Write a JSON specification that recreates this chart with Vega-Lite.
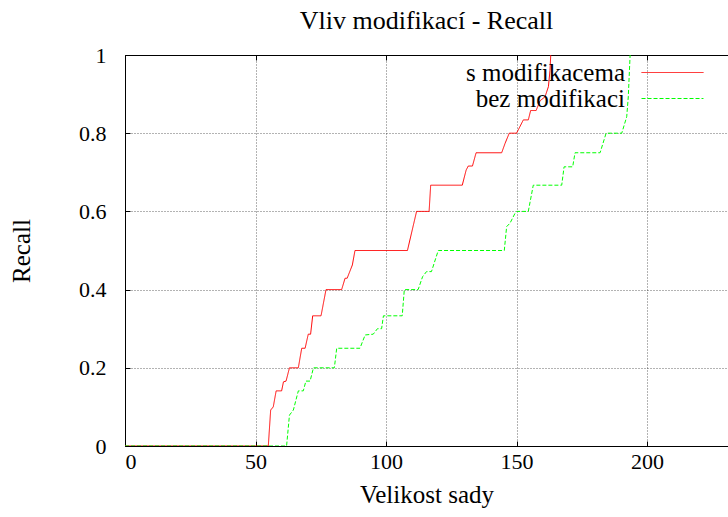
{
  "$schema": "https://vega.github.io/schema/vega-lite/v6.json",
  "width": 603,
  "height": 391,
  "autosize": {"type": "none"},
  "padding": {"left": 125, "top": 55, "right": 0, "bottom": 71},
  "background": "white",
  "config": {
    "font": "Liberation Serif",
    "view": {"stroke": null},
    "axis": {
      "domainColor": "black",
      "domainWidth": 1,
      "tickColor": "black",
      "tickSize": -5,
      "labelColor": "black",
      "labelFontSize": 22,
      "labelFont": "Liberation Serif",
      "titleFont": "Liberation Serif",
      "titleFontSize": 25,
      "titleFontWeight": "normal",
      "titleColor": "black",
      "gridColor": "#000000",
      "gridDash": [1, 2],
      "gridWidth": 1,
      "gridOpacity": 0.6
    },
    "legend": {
      "orient": "none",
      "legendX": 535,
      "legendY": 5,
      "padding": 0,
      "rowPadding": -15.5,
      "symbolType": "M-4,0H4",
      "symbolSize": 240,
      "symbolStrokeWidth": 1,
      "labelFontSize": 25,
      "labelFont": "Liberation Serif",
      "labelColor": "black",
      "labelAlign": "right",
      "labelOffset": -60,
      "labelLimit": 400
    }
  },
  "title": {
    "text": "Vliv modifikací - Recall",
    "font": "Liberation Serif",
    "fontSize": 26,
    "fontWeight": "normal",
    "color": "black",
    "anchor": "middle",
    "frame": "group",
    "offset": 10
  },
  "data": {
    "values": [
      {"i": 0, "series": "s modifikacema", "x": 0, "y": 0},
      {"i": 1, "series": "s modifikacema", "x": 54.9, "y": 0},
      {"i": 2, "series": "s modifikacema", "x": 55.8, "y": 0.092},
      {"i": 3, "series": "s modifikacema", "x": 56.8, "y": 0.1},
      {"i": 4, "series": "s modifikacema", "x": 57.9, "y": 0.141},
      {"i": 5, "series": "s modifikacema", "x": 60, "y": 0.141},
      {"i": 6, "series": "s modifikacema", "x": 60.7, "y": 0.164},
      {"i": 7, "series": "s modifikacema", "x": 61.7, "y": 0.166},
      {"i": 8, "series": "s modifikacema", "x": 63, "y": 0.2},
      {"i": 9, "series": "s modifikacema", "x": 66.4, "y": 0.2},
      {"i": 10, "series": "s modifikacema", "x": 67.7, "y": 0.25},
      {"i": 11, "series": "s modifikacema", "x": 69, "y": 0.25},
      {"i": 12, "series": "s modifikacema", "x": 70.2, "y": 0.286},
      {"i": 13, "series": "s modifikacema", "x": 71.1, "y": 0.286},
      {"i": 14, "series": "s modifikacema", "x": 71.9, "y": 0.333},
      {"i": 15, "series": "s modifikacema", "x": 75.1, "y": 0.333},
      {"i": 16, "series": "s modifikacema", "x": 77, "y": 0.4},
      {"i": 17, "series": "s modifikacema", "x": 83, "y": 0.4},
      {"i": 18, "series": "s modifikacema", "x": 84.3, "y": 0.429},
      {"i": 19, "series": "s modifikacema", "x": 85.1, "y": 0.429},
      {"i": 20, "series": "s modifikacema", "x": 87.1, "y": 0.463},
      {"i": 21, "series": "s modifikacema", "x": 88.1, "y": 0.5},
      {"i": 22, "series": "s modifikacema", "x": 108.2, "y": 0.5},
      {"i": 23, "series": "s modifikacema", "x": 111.7, "y": 0.6},
      {"i": 24, "series": "s modifikacema", "x": 116.5, "y": 0.6},
      {"i": 25, "series": "s modifikacema", "x": 117.1, "y": 0.667},
      {"i": 26, "series": "s modifikacema", "x": 129.2, "y": 0.667},
      {"i": 27, "series": "s modifikacema", "x": 130.7, "y": 0.706},
      {"i": 28, "series": "s modifikacema", "x": 131.5, "y": 0.716},
      {"i": 29, "series": "s modifikacema", "x": 133.1, "y": 0.716},
      {"i": 30, "series": "s modifikacema", "x": 134.5, "y": 0.75},
      {"i": 31, "series": "s modifikacema", "x": 144.3, "y": 0.75},
      {"i": 32, "series": "s modifikacema", "x": 145.6, "y": 0.774},
      {"i": 33, "series": "s modifikacema", "x": 147.2, "y": 0.8},
      {"i": 34, "series": "s modifikacema", "x": 150, "y": 0.8},
      {"i": 35, "series": "s modifikacema", "x": 152.6, "y": 0.834},
      {"i": 36, "series": "s modifikacema", "x": 154.5, "y": 0.834},
      {"i": 37, "series": "s modifikacema", "x": 155.4, "y": 0.858},
      {"i": 38, "series": "s modifikacema", "x": 157.5, "y": 0.858},
      {"i": 39, "series": "s modifikacema", "x": 159, "y": 0.883},
      {"i": 40, "series": "s modifikacema", "x": 160.9, "y": 0.893},
      {"i": 41, "series": "s modifikacema", "x": 162.2, "y": 0.919},
      {"i": 42, "series": "s modifikacema", "x": 162.8, "y": 0.96},
      {"i": 43, "series": "s modifikacema", "x": 163.1, "y": 1.0},
      {"i": 0, "series": "bez modifikaci", "x": 0, "y": 0},
      {"i": 1, "series": "bez modifikaci", "x": 61.9, "y": 0},
      {"i": 2, "series": "bez modifikaci", "x": 63, "y": 0.079},
      {"i": 3, "series": "bez modifikaci", "x": 64.5, "y": 0.092},
      {"i": 4, "series": "bez modifikaci", "x": 66.4, "y": 0.141},
      {"i": 5, "series": "bez modifikaci", "x": 68.3, "y": 0.141},
      {"i": 6, "series": "bez modifikaci", "x": 69.3, "y": 0.166},
      {"i": 7, "series": "bez modifikaci", "x": 70.9, "y": 0.166},
      {"i": 8, "series": "bez modifikaci", "x": 72.2, "y": 0.2},
      {"i": 9, "series": "bez modifikaci", "x": 80.2, "y": 0.2},
      {"i": 10, "series": "bez modifikaci", "x": 81.1, "y": 0.25},
      {"i": 11, "series": "bez modifikaci", "x": 90, "y": 0.25},
      {"i": 12, "series": "bez modifikaci", "x": 92, "y": 0.284},
      {"i": 13, "series": "bez modifikaci", "x": 95.1, "y": 0.286},
      {"i": 14, "series": "bez modifikaci", "x": 96.7, "y": 0.3},
      {"i": 15, "series": "bez modifikaci", "x": 98.3, "y": 0.3},
      {"i": 16, "series": "bez modifikaci", "x": 99, "y": 0.333},
      {"i": 17, "series": "bez modifikaci", "x": 106.2, "y": 0.333},
      {"i": 18, "series": "bez modifikaci", "x": 107, "y": 0.4},
      {"i": 19, "series": "bez modifikaci", "x": 112.3, "y": 0.4},
      {"i": 20, "series": "bez modifikaci", "x": 114, "y": 0.433},
      {"i": 21, "series": "bez modifikaci", "x": 115.5, "y": 0.446},
      {"i": 22, "series": "bez modifikaci", "x": 117.4, "y": 0.446},
      {"i": 23, "series": "bez modifikaci", "x": 120, "y": 0.5},
      {"i": 24, "series": "bez modifikaci", "x": 145.3, "y": 0.5},
      {"i": 25, "series": "bez modifikaci", "x": 146.2, "y": 0.561},
      {"i": 26, "series": "bez modifikaci", "x": 147.5, "y": 0.57},
      {"i": 27, "series": "bez modifikaci", "x": 149.4, "y": 0.595},
      {"i": 28, "series": "bez modifikaci", "x": 150.1, "y": 0.6},
      {"i": 29, "series": "bez modifikaci", "x": 154.5, "y": 0.6},
      {"i": 30, "series": "bez modifikaci", "x": 156.4, "y": 0.667},
      {"i": 31, "series": "bez modifikaci", "x": 167.3, "y": 0.667},
      {"i": 32, "series": "bez modifikaci", "x": 168.2, "y": 0.714},
      {"i": 33, "series": "bez modifikaci", "x": 171.5, "y": 0.714},
      {"i": 34, "series": "bez modifikaci", "x": 172.4, "y": 0.75},
      {"i": 35, "series": "bez modifikaci", "x": 182, "y": 0.75},
      {"i": 36, "series": "bez modifikaci", "x": 184.3, "y": 0.8},
      {"i": 37, "series": "bez modifikaci", "x": 190.3, "y": 0.8},
      {"i": 38, "series": "bez modifikaci", "x": 192.2, "y": 0.842},
      {"i": 39, "series": "bez modifikaci", "x": 192.8, "y": 0.893},
      {"i": 40, "series": "bez modifikaci", "x": 193.5, "y": 1.0}
    ]
  },
  "layer": [
    {
      "mark": {"type": "line", "strokeWidth": 1, "clip": true},
      "encoding": {
        "x": {
          "field": "x",
          "type": "quantitative",
          "scale": {"domain": [0, 231], "nice": false, "zero": false},
          "axis": {
            "orient": "bottom",
            "title": "Velikost sady",
            "values": [0, 50, 100, 150, 200],
            "labelPadding": 10,
            "titlePadding": 10,
            "grid": true
          }
        },
        "y": {
          "field": "y",
          "type": "quantitative",
          "scale": {"domain": [0, 1], "nice": false},
          "axis": {
            "title": "Recall",
            "values": [0, 0.2, 0.4, 0.6, 0.8, 1],
            "format": "~g",
            "labelPadding": 24,
            "titlePadding": 44,
            "grid": true
          }
        },
        "color": {
          "field": "series",
          "type": "nominal",
          "scale": {"domain": ["s modifikacema", "bez modifikaci"], "range": ["#ff0000", "#00ff00"]},
          "legend": {"title": null}
        },
        "strokeDash": {
          "field": "series",
          "type": "nominal",
          "scale": {"domain": ["s modifikacema", "bez modifikaci"], "range": [[1, 0], [4, 2]]},
          "legend": {"title": null}
        },
        "order": {"field": "i", "type": "quantitative"}
      }
    },
    {
      "mark": {"type": "line", "opacity": 0},
      "encoding": {
        "x": {
          "field": "x",
          "type": "quantitative",
          "axis": {
            "orient": "top",
            "title": null,
            "labels": false,
            "values": [0, 50, 100, 150, 200],
            "grid": false
          }
        },
        "y": {"field": "y", "type": "quantitative"},
        "detail": {"field": "series", "type": "nominal"}
      }
    }
  ],
  "resolve": {"axis": {"x": "independent"}}
}
